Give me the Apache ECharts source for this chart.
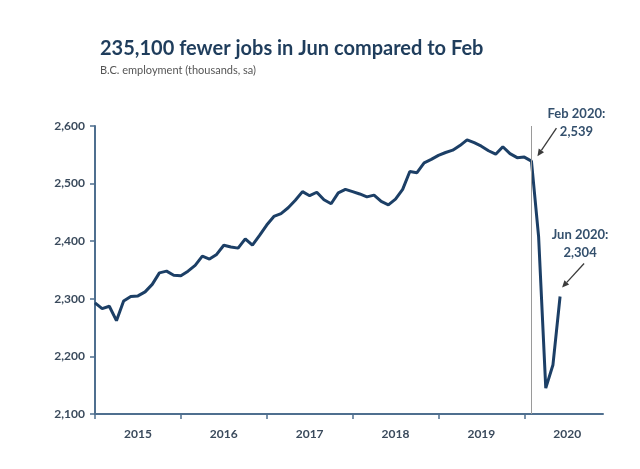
<!DOCTYPE html>
<html>
<head>
<meta charset="utf-8">
<script src="https://cdn.jsdelivr.net/npm/echarts@6/dist/echarts.min.js"></script>
<style>
  html, body { margin: 0; padding: 0; background: #fff; }
  #chart { width: 640px; height: 469px; }
</style>
</head>
<body>
<div id="chart"></div>
<script>
// B.C. employment, thousands, seasonally adjusted (Jan 2015 - Jun 2020)
const years = ["2015", "2016", "2017", "2018", "2019", "2020"];
const empleo2015 = [2293, 2283, 2287, 2262, 2296, 2304, 2305, 2312, 2325, 2345, 2348, 2341];
const empleo2016 = [2340, 2348, 2358, 2374, 2369, 2377, 2393, 2390, 2388, 2404, 2393, 2410];
const empleo2017 = [2428, 2443, 2448, 2458, 2471, 2486, 2479, 2485, 2472, 2465, 2484, 2490];
const empleo2018 = [2486, 2482, 2477, 2480, 2469, 2463, 2473, 2490, 2521, 2519, 2536, 2542];
const empleo2019 = [2549, 2554, 2558, 2566, 2576, 2571, 2565, 2557, 2551, 2564, 2552, 2545];
const empleo2020 = [2546, 2539, 2408, 2145, 2185, 2304];
const yTicks = [2100, 2200, 2300, 2400, 2500, 2600];

// 12 months per year on the axis, 2020 runs to December
const meses = [];
years.forEach(y => {
  for (let m = 1; m <= 12; m++) meses.push(y + "-" + String(m).padStart(2, "0"));
});
const valores = [].concat(empleo2015, empleo2016, empleo2017, empleo2018, empleo2019, empleo2020);

const idxFeb = meses.indexOf("2020-02");
const idxJun = meses.indexOf("2020-06");

const azul = "#1c3f66";
const ejeColor = "#4f6f8f";
const textoEje = "#3a4a5c";
const fuente = "Lato, 'Open Sans', sans-serif";

const chart = echarts.init(document.getElementById("chart"));

chart.setOption({
  backgroundColor: "#fff",
  animation: false,
  title: {
    text: "235,100 fewer jobs in Jun compared to Feb",
    subtext: "B.C. employment (thousands, sa)",
    left: 95,
    top: 34,
    itemGap: 6,
    textStyle: { color: "#1f3d5c", fontSize: 20, fontWeight: "bold", fontFamily: fuente },
    subtextStyle: { color: "#555", fontSize: 11, fontFamily: fuente }
  },
  grid: { left: 95, right: 37, top: 126, bottom: 55 },
  xAxis: {
    type: "category",
    data: meses,
    boundaryGap: false,
    axisLine: { lineStyle: { color: ejeColor, width: 2 } },
    axisTick: {
      show: true,
      length: 5,
      interval: (i) => i % 12 === 0,
      lineStyle: { color: ejeColor, width: 1.5 }
    },
    axisLabel: {
      interval: (i) => i % 12 === 6,
      formatter: v => v.slice(0, 4),
      color: textoEje,
      fontSize: 12,
      fontWeight: "bold",
      fontFamily: fuente,
      margin: 14
    },
    splitLine: { show: false }
  },
  yAxis: {
    type: "value",
    min: yTicks[0],
    max: yTicks[yTicks.length - 1],
    interval: 100,
    axisLine: { show: true, lineStyle: { color: ejeColor, width: 2 } },
    axisTick: { show: true, length: 5, lineStyle: { color: ejeColor, width: 1.5 } },
    axisLabel: {
      color: textoEje,
      fontSize: 12,
      fontWeight: "bold",
      fontFamily: fuente,
      margin: 10,
      formatter: v => v.toLocaleString("en-US")
    },
    splitLine: { show: false }
  },
  series: [{
    type: "line",
    data: valores,
    showSymbol: false,
    lineStyle: { color: azul, width: 3 },
    markLine: {
      silent: true,
      symbol: "none",
      label: { show: false },
      lineStyle: { color: "#9a9a9a", width: 1, type: "solid" },
      data: [{ xAxis: idxFeb }]
    }
  }]
});

// üîπ Anotaciones con flecha, ubicadas respecto del punto de datos
function flecha(px, dxTail, dyTail, dxHead, dyHead) {
  const x1 = px[0] + dxTail, y1 = px[1] + dyTail;
  const x2 = px[0] + dxHead, y2 = px[1] + dyHead;
  const ang = Math.atan2(y2 - y1, x2 - x1);
  const L = 7, W = 3.2;
  const bx = x2 - L * Math.cos(ang), by = y2 - L * Math.sin(ang);
  const nx = -Math.sin(ang) * W, ny = Math.cos(ang) * W;
  return [
    { type: "line", shape: { x1, y1, x2: bx, y2: by }, style: { stroke: "#3b3b3b", lineWidth: 1.3 } },
    { type: "polygon", shape: { points: [[x2, y2], [bx + nx, by + ny], [bx - nx, by - ny]] }, style: { fill: "#3b3b3b" } }
  ];
}

function etiqueta(x, y, txt) {
  return {
    type: "text", x, y,
    style: {
      text: txt, fill: "#34506d", font: "bold 13px " + fuente,
      textAlign: "center", textVerticalAlign: "middle"
    }
  };
}

const pFeb = chart.convertToPixel({ seriesIndex: 0 }, [idxFeb, valores[idxFeb]]);
const pJun = chart.convertToPixel({ seriesIndex: 0 }, [idxJun, valores[idxJun]]);

chart.setOption({
  graphic: [
    etiqueta(pFeb[0] + 45, pFeb[1] - 47, "Feb 2020:"),
    etiqueta(pFeb[0] + 45, pFeb[1] - 29, valores[idxFeb].toLocaleString("en-US")),
    ...flecha(pFeb, 25, -33, 6, -5),
    etiqueta(pJun[0] + 20, pJun[1] - 62, "Jun 2020:"),
    etiqueta(pJun[0] + 20, pJun[1] - 44, valores[idxJun].toLocaleString("en-US")),
    ...flecha(pJun, 24, -33, 2, -9)
  ]
});
</script>
</body>
</html>
